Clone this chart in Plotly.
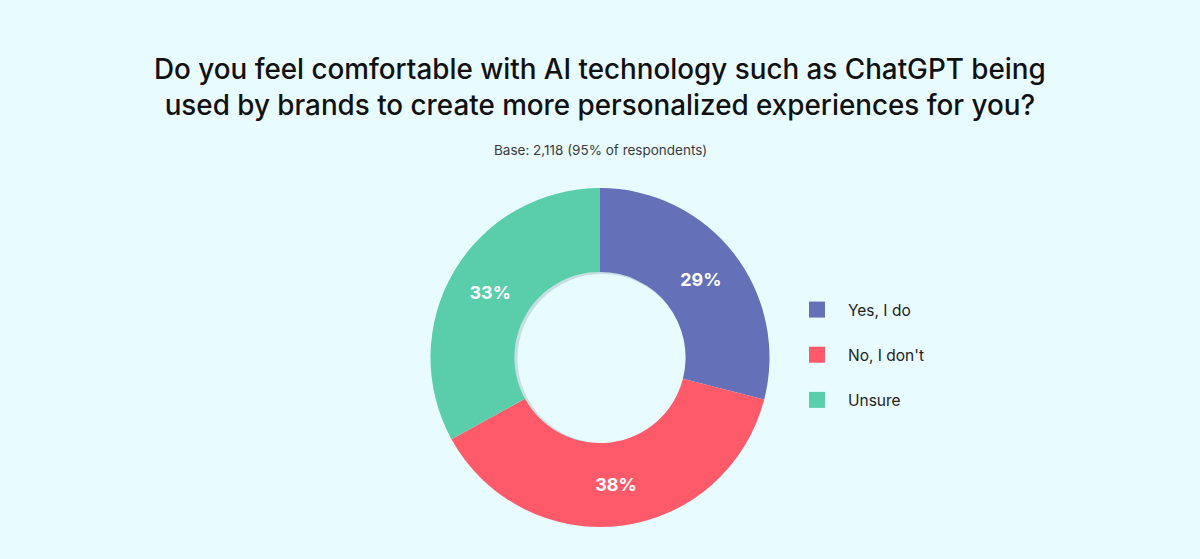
import plotly.graph_objects as go

categories = ["Yes, I do", "No, I don't", "Unsure"]
values = [29, 38, 33]
colors = ["#6470B8", "#FF5A69", "#5ACDAA"]

title_lines = ["Do you feel comfortable with AI technology such as ChatGPT being",
               "used by brands to create more personalized experiences for you?"]
subtitle = "Base: 2,118 (95% of respondents)"

W, H = 1200, 559
BG = "#E8FCFF"
cx, cy, R = 600, 357.5, 169.5

fig = go.Figure()
fig.add_trace(go.Pie(
    labels=categories, values=values, sort=False, direction="clockwise", rotation=0,
    hole=0.505, marker=dict(colors=colors, line=dict(width=0)),
    texttemplate="%{value}%", textposition="inside", insidetextorientation="horizontal",
    textfont=dict(family="Inter", size=18, color="white", weight=700),
    showlegend=False, hoverinfo="label+percent",
    domain=dict(x=[(cx - R) / W, (cx + R) / W], y=[(H - cy - R) / H, (H - cy + R) / H]),
))

for i, (cat, col) in enumerate(zip(categories, colors)):
    fig.add_trace(go.Scatter(
        x=[None], y=[None], mode="markers", name=cat, legendgroup=cat,
        marker=dict(symbol="square", size=18, color=col),
        showlegend=True,
    ))

def px2x(x):
    return x / W

def px2y(y):
    return 1 - y / H

shapes = [
    dict(type="circle", xref="paper", yref="paper", layer="below",
         x0=px2x(599 - 86), x1=px2x(599 + 86), y0=px2y(357.5 + 86), y1=px2y(357.5 - 86),
         fillcolor="#C6DFE2", line=dict(width=0)),
    dict(type="circle", xref="paper", yref="paper", layer="below",
         x0=px2x(602 - 84.5), x1=px2x(602 + 84.5), y0=px2y(358.5 + 84.5), y1=px2y(358.5 - 84.5),
         fillcolor=BG, line=dict(width=0)),
]

fig.update_layout(
    width=W, height=H,
    paper_bgcolor=BG, plot_bgcolor=BG,
    margin=dict(l=0, r=0, t=0, b=0),
    xaxis=dict(visible=False), yaxis=dict(visible=False),
    shapes=shapes,
    annotations=[
        dict(text="<br>".join(title_lines), x=0.5, y=px2y(87), xref="paper", yref="paper",
             xanchor="center", yanchor="middle", showarrow=False,
             font=dict(family="Inter", size=27.8, color="#111111", weight=500)),
        dict(text=subtitle, x=0.5, y=px2y(150), xref="paper", yref="paper",
             xanchor="center", yanchor="middle", showarrow=False,
             font=dict(family="Inter", size=13.5, color="#3A3A3A")),
    ],
    legend=dict(x=px2x(786), y=px2y(355), xanchor="left", yanchor="middle",
                font=dict(family="Inter", size=15.5, color="#222222"),
                tracegroupgap=22, bgcolor="rgba(0,0,0,0)", itemclick=False,
                itemwidth=52),
    showlegend=True,
)

fig.write_html("out.html")
